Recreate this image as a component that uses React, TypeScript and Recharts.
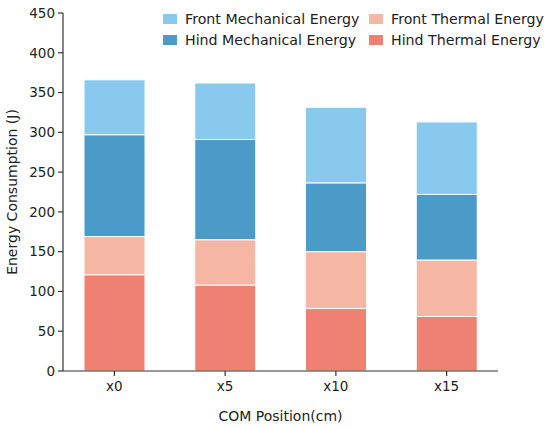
import { Bar, BarChart, Label, XAxis, YAxis } from 'recharts';

const positions = ['x0', 'x5', 'x10', 'x15'];
const hindThermal = [121, 108, 78.5, 68.5];
const frontThermal = [48, 57, 71.5, 71];
const hindMechanical = [128, 126, 86.5, 82.5];
const frontMechanical = [69, 71, 95, 91];
const yTicks = [0, 50, 100, 150, 200, 250, 300, 350, 400, 450];

const FONT = '"DejaVu Sans", sans-serif';
const AXIS = '#333333';

const chartData = positions.map((pos, i) => ({
  pos,
  hindThermal: hindThermal[i],
  frontThermal: frontThermal[i],
  hindMechanical: hindMechanical[i],
  frontMechanical: frontMechanical[i],
}));

const legendRows = [
  [
    { name: 'Front Mechanical Energy', color: '#89c9ee' },
    { name: 'Front Thermal Energy', color: '#f6b6a4' },
  ],
  [
    { name: 'Hind Mechanical Energy', color: '#4a9bc8' },
    { name: 'Hind Thermal Energy', color: '#ee8172' },
  ],
];

// matplotlib-style legend in the upper right, two columns
function EnergyLegend() {
  return (
    <div style={{ position: 'absolute', left: 163, top: 8, fontFamily: FONT, fontSize: 14.2, color: '#222', whiteSpace: 'nowrap' }}>
      {legendRows.map((row, r) => (
        <div key={r} style={{ display: 'flex', height: 21, alignItems: 'center' }}>
          {row.map((item, c) => (
            <div key={item.name} style={{ display: 'flex', alignItems: 'center', width: c === 0 ? 206 : 'auto' }}>
              <span style={{ display: 'inline-block', width: 14, height: 10, background: item.color, marginRight: 8 }} />
              <span>{item.name}</span>
            </div>
          ))}
        </div>
      ))}
    </div>
  );
}

export default function App() {
  const tick = { fill: '#222', fontSize: 13.5, fontFamily: FONT };
  return (
    <div style={{ position: 'absolute', left: 0, top: 0, width: 550, height: 428, background: '#fff' }}>
      <BarChart width={550} height={428} data={chartData} margin={{ top: 13, right: 52, bottom: 0, left: 0 }} barCategoryGap={0}>
        <XAxis
          dataKey="pos"
          height={57}
          padding={{ left: -4, right: -4 }}
          tick={tick}
          tickSize={5}
          tickMargin={5}
          stroke={AXIS}
          axisLine={{ stroke: AXIS, strokeWidth: 1.2 }}
          tickLine={{ stroke: AXIS, strokeWidth: 1.2 }}
        >
          <Label value="COM Position(cm)" position="insideBottom" offset={7} style={{ fill: '#222', fontSize: 14, fontFamily: FONT }} />
        </XAxis>
        <YAxis
          width={63}
          domain={[0, 450]}
          ticks={yTicks}
          interval={0}
          tick={tick}
          tickSize={5}
          tickMargin={3}
          stroke={AXIS}
          axisLine={{ stroke: AXIS, strokeWidth: 1.2 }}
          tickLine={{ stroke: AXIS, strokeWidth: 1.2 }}
        >
          <Label
            value="Energy Consumption (J)"
            angle={-90}
            position="insideLeft"
            offset={12}
            style={{ textAnchor: 'middle', fill: '#222', fontSize: 14, fontFamily: FONT }}
          />
        </YAxis>
        <Bar dataKey="hindThermal" stackId="e" barSize={61} fill="#ee8172" stroke="#ffffff" strokeWidth={1} isAnimationActive={false} />
        <Bar dataKey="frontThermal" stackId="e" barSize={61} fill="#f6b6a4" stroke="#ffffff" strokeWidth={1} isAnimationActive={false} />
        <Bar dataKey="hindMechanical" stackId="e" barSize={61} fill="#4a9bc8" stroke="#ffffff" strokeWidth={1} isAnimationActive={false} />
        <Bar dataKey="frontMechanical" stackId="e" barSize={61} fill="#89c9ee" stroke="#ffffff" strokeWidth={1} isAnimationActive={false} />
      </BarChart>
      <EnergyLegend />
    </div>
  );
}
